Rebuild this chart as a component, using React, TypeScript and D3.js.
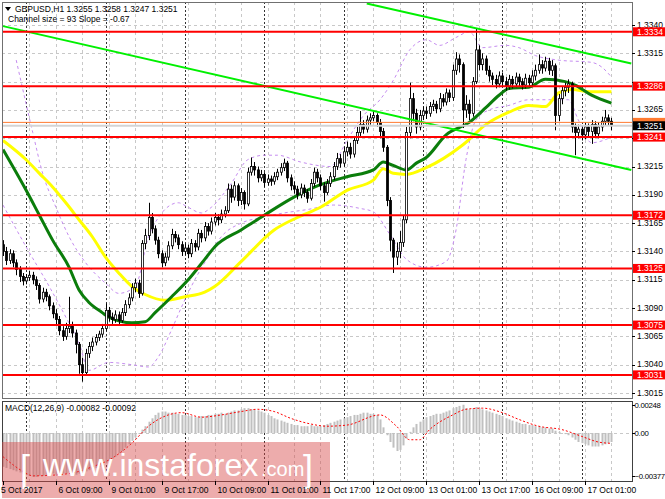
import * as d3 from "d3";
import React from "react";

const W = 665;
const H = 499;

// time axis: one label every 16 H1 bars, day separators at 00:00
const timeTickIdx = [0, 16, 32, 48, 64, 80, 96, 112, 128, 144, 160, 176];
const timeTickLabels = [
  "5 Oct 2017", "6 Oct 09:00", "9 Oct 01:00", "9 Oct 17:00", "10 Oct 09:00", "11 Oct 01:00",
  "11 Oct 17:00", "12 Oct 09:00", "13 Oct 01:00", "13 Oct 17:00", "16 Oct 09:00", "17 Oct 01:00",
];
const daySeparators = [7, 31, 55, 79, 103, 127, 151, 175];

const priceTicks = [
  1.3015, 1.304, 1.3065, 1.309, 1.3115, 1.314, 1.3165, 1.319, 1.3215, 1.324, 1.3265, 1.329, 1.3315, 1.334,
];
const levels = [1.3334, 1.3286, 1.3241, 1.3172, 1.3125, 1.3075, 1.3031];
const lastBid = 1.3251;
const lastAsk = 1.3254;

const firstOpen = 1.3146;
const closes = [
  1.3140, 1.3132, 1.3138, 1.3130, 1.3124, 1.3118, 1.3114, 1.3117, 1.3119, 1.3115,
  1.3110, 1.3098, 1.3104, 1.3100, 1.3092, 1.3085, 1.3080, 1.3070, 1.3065, 1.3072,
  1.3074, 1.3068, 1.3058, 1.3040, 1.3033, 1.3050, 1.3056, 1.3060, 1.3064, 1.3067,
  1.3072, 1.3088, 1.3082, 1.3080, 1.3084, 1.3079, 1.3086, 1.3093, 1.3099, 1.3108,
  1.3112, 1.3103, 1.3147, 1.3154, 1.3170, 1.3160, 1.3150, 1.3138, 1.3130, 1.3135,
  1.3145, 1.3155, 1.3152, 1.3146, 1.3140, 1.3143, 1.3138, 1.3147, 1.3144, 1.3156,
  1.3152, 1.3162, 1.3158, 1.3166, 1.3170, 1.3168, 1.3173, 1.3176, 1.3195, 1.3188,
  1.3198, 1.3185, 1.3192, 1.3182, 1.3210, 1.3215, 1.3212, 1.3205, 1.3208, 1.3201,
  1.3204, 1.3202, 1.3206, 1.3210, 1.3214, 1.3218, 1.3205, 1.3198, 1.3195, 1.3190,
  1.3196, 1.3192, 1.3187, 1.3200, 1.3210, 1.3205, 1.3198, 1.3192, 1.3200, 1.3206,
  1.3215, 1.3222, 1.3218, 1.3228, 1.3232, 1.3226, 1.3238, 1.3245, 1.3252, 1.3248,
  1.3256, 1.3258, 1.3260, 1.3254, 1.3246, 1.3232, 1.3185, 1.3150, 1.3135, 1.3140,
  1.3148, 1.3168, 1.3245, 1.3275, 1.3262, 1.3250, 1.3260, 1.3264, 1.3262, 1.3268,
  1.3270, 1.3266, 1.3275, 1.3272, 1.3280, 1.3276, 1.3300, 1.3310, 1.3305, 1.3265,
  1.3270, 1.3262, 1.3290, 1.3318, 1.3305, 1.3310, 1.3300, 1.3295, 1.3292, 1.3288,
  1.3295, 1.3290, 1.3286, 1.3292, 1.3288, 1.3294, 1.3290, 1.3287, 1.3293, 1.3289,
  1.3295, 1.3300, 1.3305, 1.3302, 1.3308, 1.3300, 1.3304, 1.3260, 1.3275, 1.3282,
  1.3285, 1.3288, 1.3250, 1.3245, 1.3248, 1.3243, 1.3250, 1.3246, 1.3252, 1.3244,
  1.3250, 1.3255, 1.3258, 1.3255, 1.3251,
];
const highs = [
  1.3150, 1.3144, 1.3142, 1.3141, 1.3133, 1.3127, 1.3121, 1.3120, 1.3123, 1.3122,
  1.3118, 1.3112, 1.3108, 1.3107, 1.3102, 1.3095, 1.3089, 1.3083, 1.3074, 1.3077,
  1.3100, 1.3078, 1.3071, 1.3060, 1.3046, 1.3054, 1.3060, 1.3064, 1.3067, 1.3070,
  1.3076, 1.3094, 1.3091, 1.3086, 1.3088, 1.3087, 1.3090, 1.3097, 1.3103, 1.3112,
  1.3116, 1.3115, 1.3150, 1.3160, 1.3183, 1.3174, 1.3163, 1.3153, 1.3141, 1.3139,
  1.3149, 1.3160, 1.3158, 1.3155, 1.3149, 1.3147, 1.3146, 1.3151, 1.3150, 1.3160,
  1.3159, 1.3166, 1.3165, 1.3170, 1.3174, 1.3173, 1.3177, 1.3180, 1.3200, 1.3199,
  1.3202, 1.3200, 1.3196, 1.3194, 1.3214, 1.3223, 1.3219, 1.3215, 1.3212, 1.3210,
  1.3208, 1.3207, 1.3210, 1.3213, 1.3218, 1.3222, 1.3220, 1.3208, 1.3202, 1.3198,
  1.3200, 1.3199, 1.3195, 1.3204, 1.3214, 1.3213, 1.3208, 1.3201, 1.3204, 1.3210,
  1.3219, 1.3227, 1.3226, 1.3232, 1.3237, 1.3236, 1.3242, 1.3250, 1.3264, 1.3256,
  1.3260, 1.3262, 1.3264, 1.3262, 1.3257, 1.3249, 1.3234, 1.3188, 1.3152, 1.3148,
  1.3158, 1.3172, 1.3250, 1.3289, 1.3280, 1.3266, 1.3265, 1.3268, 1.3268, 1.3272,
  1.3274, 1.3273, 1.3280, 1.3279, 1.3284, 1.3283, 1.3305, 1.3316, 1.3314, 1.3307,
  1.3278, 1.3274, 1.3294, 1.3337, 1.3322, 1.3315, 1.3313, 1.3304, 1.3298, 1.3296,
  1.3299, 1.3298, 1.3294, 1.3296, 1.3295, 1.3298, 1.3297, 1.3293, 1.3297, 1.3296,
  1.3300, 1.3305, 1.3314, 1.3309, 1.3312, 1.3311, 1.3309, 1.3306, 1.3279, 1.3286,
  1.3289, 1.3292, 1.3290, 1.3253, 1.3252, 1.3251, 1.3254, 1.3253, 1.3256, 1.3255,
  1.3254, 1.3259, 1.3265, 1.3261, 1.3258,
];
const lows = [
  1.3136, 1.3128, 1.3129, 1.3126, 1.3119, 1.3113, 1.3110, 1.3111, 1.3114, 1.3111,
  1.3106, 1.3094, 1.3095, 1.3096, 1.3088, 1.3081, 1.3075, 1.3066, 1.3061, 1.3062,
  1.3068, 1.3064, 1.3050, 1.3032, 1.3025, 1.3030, 1.3046, 1.3052, 1.3057, 1.3061,
  1.3064, 1.3070, 1.3078, 1.3076, 1.3077, 1.3075, 1.3077, 1.3083, 1.3090, 1.3096,
  1.3104, 1.3099, 1.3101, 1.3142, 1.3150, 1.3156, 1.3146, 1.3134, 1.3126, 1.3127,
  1.3132, 1.3142, 1.3148, 1.3142, 1.3136, 1.3137, 1.3134, 1.3135, 1.3140, 1.3141,
  1.3148, 1.3149, 1.3154, 1.3155, 1.3163, 1.3163, 1.3165, 1.3170, 1.3174, 1.3183,
  1.3185, 1.3180, 1.3181, 1.3177, 1.3180, 1.3207, 1.3207, 1.3201, 1.3202, 1.3197,
  1.3198, 1.3198, 1.3199, 1.3203, 1.3207, 1.3211, 1.3201, 1.3194, 1.3191, 1.3186,
  1.3187, 1.3188, 1.3183, 1.3185, 1.3197, 1.3201, 1.3194, 1.3184, 1.3190, 1.3197,
  1.3203, 1.3212, 1.3214, 1.3215, 1.3224, 1.3222, 1.3223, 1.3235, 1.3242, 1.3244,
  1.3245, 1.3252, 1.3255, 1.3250, 1.3240, 1.3228, 1.3180, 1.3140, 1.3121, 1.3128,
  1.3134, 1.3144, 1.3165, 1.3240, 1.3255, 1.3244, 1.3247, 1.3256, 1.3257, 1.3259,
  1.3264, 1.3262, 1.3263, 1.3268, 1.3269, 1.3272, 1.3273, 1.3296, 1.3298, 1.3249,
  1.3258, 1.3256, 1.3259, 1.3288, 1.3300, 1.3300, 1.3296, 1.3290, 1.3287, 1.3284,
  1.3285, 1.3286, 1.3282, 1.3283, 1.3284, 1.3285, 1.3286, 1.3283, 1.3284, 1.3285,
  1.3286, 1.3291, 1.3297, 1.3297, 1.3299, 1.3296, 1.3295, 1.3247, 1.3255, 1.3270,
  1.3277, 1.3280, 1.3245, 1.3225, 1.3240, 1.3238, 1.3239, 1.3241, 1.3235, 1.3240,
  1.3240, 1.3246, 1.3251, 1.3251, 1.3247,
];

// moving averages read at [bar index, price]
const maGreen: [number, number][] = [
  [0, 1.323], [7, 1.3194], [11, 1.3172], [15, 1.315], [20, 1.3126], [23, 1.3106], [26, 1.3095],
  [30, 1.3086], [32, 1.3082], [39, 1.3077], [43, 1.3078], [46, 1.3086], [51, 1.31], [56, 1.3115],
  [61, 1.3133], [64, 1.3144], [72, 1.3159], [79, 1.3172], [88, 1.3188], [96, 1.3199], [104, 1.3206],
  [112, 1.3212], [115, 1.3219], [118, 1.3216], [122, 1.3212], [125, 1.3218], [128, 1.3223],
  [134, 1.3243], [141, 1.3254], [146, 1.3267], [150, 1.3278], [153, 1.3284], [159, 1.3285],
  [164, 1.3292], [170, 1.329], [173, 1.3287], [178, 1.3278], [184, 1.3271],
];
const maYellow: [number, number][] = [
  [0, 1.3238], [7, 1.3221], [11, 1.3209], [15, 1.3197], [19, 1.3183], [23, 1.3168], [27, 1.3153],
  [31, 1.3135], [35, 1.3121], [39, 1.3109], [43, 1.3102], [49, 1.3097], [55, 1.31], [61, 1.3104],
  [64, 1.3109], [72, 1.3131], [82, 1.3159], [89, 1.317], [96, 1.3179], [104, 1.3194], [112, 1.3203],
  [115, 1.3213], [118, 1.3209], [122, 1.3208], [128, 1.3214], [139, 1.3234], [146, 1.3252],
  [153, 1.3263], [159, 1.3269], [164, 1.3268], [168, 1.328], [172, 1.3283], [178, 1.3281], [184, 1.3281],
];
const bandUpper: [number, number][] = [
  [4, 1.3309], [6, 1.3283], [9, 1.3245], [12, 1.3209], [16, 1.3179], [20, 1.3153], [25, 1.313],
  [31, 1.3112], [35, 1.3103], [40, 1.3109], [44, 1.3153], [47, 1.317], [53, 1.3183], [56, 1.3179],
  [60, 1.3174], [63, 1.3179], [69, 1.32], [74, 1.3221], [79, 1.3225], [83, 1.3225], [90, 1.3219],
  [99, 1.3215], [104, 1.3238], [109, 1.326], [114, 1.3274], [118, 1.3291], [123, 1.3318],
  [128, 1.3327], [132, 1.3322], [137, 1.3329], [141, 1.3334], [145, 1.332], [152, 1.3322],
  [156, 1.332], [161, 1.3313], [168, 1.3309], [178, 1.3307], [181, 1.3303], [184, 1.3294],
];
const bandLower: [number, number][] = [
  [0, 1.3181], [7, 1.3144], [14, 1.3109], [19, 1.3082], [23, 1.3059], [26, 1.3035], [32, 1.3042],
  [39, 1.304], [44, 1.3038], [47, 1.3047], [51, 1.3071], [54, 1.3091], [58, 1.3115], [62, 1.3135],
  [66, 1.3153], [72, 1.3165], [78, 1.317], [85, 1.3174], [92, 1.3177], [100, 1.3181], [108, 1.3178],
  [112, 1.3175], [117, 1.3155], [122, 1.3133], [128, 1.3126], [134, 1.3131], [137, 1.3159],
  [140, 1.3221], [143, 1.3256], [147, 1.3265], [153, 1.3269], [159, 1.3274], [165, 1.3274],
  [171, 1.3274], [174, 1.3256], [178, 1.3236], [184, 1.3241],
];
// equidistant channel, two rays given by their ends
const channelLower: [number, number][] = [[0, 1.3339], [190, 1.3212]];
const channelUpper: [number, number][] = [[110, 1.3359], [190, 1.3306]];

const macdHist = [
  -0.0030, -0.0031, -0.0032, -0.0033, -0.0034, -0.0035, -0.0036, -0.0037, -0.0038, -0.0039,
  -0.0039, -0.0038, -0.0038, -0.0037, -0.0037, -0.0036, -0.0037, -0.0037, -0.0036, -0.0036,
  -0.0035, -0.0036, -0.0037, -0.0036, -0.0035, -0.0034, -0.0033, -0.0032, -0.0031, -0.0030,
  -0.0029, -0.0027, -0.0025, -0.0023, -0.0021, -0.0018, -0.0016, -0.0013, -0.0010, -0.0007,
  -0.0004, -0.0001, 0.0003, 0.0006, 0.0010, 0.0013, 0.0016, 0.0018, 0.0019, 0.0019,
  0.0018, 0.0018, 0.0017, 0.0017, 0.0016, 0.0016, 0.0015, 0.0015, 0.0014, 0.0014,
  0.0015, 0.0015, 0.0016, 0.0016, 0.0017, 0.0017, 0.0018, 0.0017, 0.0018, 0.0019,
  0.0020, 0.0020, 0.0021, 0.0022, 0.0022, 0.0021, 0.0021, 0.0020, 0.0019, 0.0018,
  0.0016, 0.0015, 0.0013, 0.0012, 0.0011, 0.0010, 0.0009, 0.0008, 0.0007, 0.0007,
  0.0006, 0.0006, 0.0006, 0.0007, 0.0006, 0.0006, 0.0006, 0.0007, 0.0008, 0.0009,
  0.0010, 0.0011, 0.0012, 0.0013, 0.0014, 0.0015, 0.0016, 0.0016, 0.0017, 0.0018,
  0.0018, 0.0017, 0.0017, 0.0016, 0.0012, 0.0005, -0.0002, -0.0008, -0.0013, -0.0016,
  -0.0015, -0.0011, -0.0005, 0.0001, 0.0005, 0.0008, 0.0010, 0.0012, 0.0014, 0.0015,
  0.0016, 0.0017, 0.0017, 0.0018, 0.0019, 0.0020, 0.0022, 0.0023, 0.0024, 0.0025,
  0.0022, 0.0021, 0.0022, 0.0023, 0.0022, 0.0021, 0.0020, 0.0019, 0.0018, 0.0017,
  0.0016, 0.0015, 0.0013, 0.0012, 0.0011, 0.0010, 0.0009, 0.0008, 0.0008, 0.0007,
  0.0007, 0.0006, 0.0006, 0.0005, 0.0005, 0.0004, 0.0004, 0.0002, 0.0001, 0.0000,
  -0.0001, -0.0002, -0.0004, -0.0006, -0.0008, -0.0009, -0.0010, -0.0011, -0.0012, -0.0012,
  -0.0012, -0.0011, -0.0010, -0.0009, -0.0008,
];
const macdSignal: [number, number][] = [
  [0, -0.0021], [6, -0.0034], [9, -0.0038], [20, -0.0036], [27, -0.003], [32, -0.0024], [39, -0.0009],
  [44, 0.0006], [50, 0.0016], [54, 0.0018], [60, 0.0014], [66, 0.0016], [72, 0.0019], [77, 0.0021],
  [82, 0.0019], [87, 0.0013], [93, 0.0008], [98, 0.0006], [104, 0.0007], [114, 0.0016], [119, 0.0006],
  [123, -0.0006], [126, -0.0006], [129, 0.0003], [136, 0.0016], [140, 0.0021], [145, 0.0022],
  [151, 0.0018], [156, 0.0012], [162, 0.0006], [169, 0.0003], [175, -0.0003], [180, -0.0008], [184, -0.00092],
];
const macdTicks = [0.00248, 0, -0.00377];

const FONT = "'Liberation Sans', Arial, sans-serif";

const App: React.FC = () => {
  const svgRef = React.useRef<SVGSVGElement | null>(null);

  React.useEffect(() => {
    const svgEl = d3.select(svgRef.current);
    svgEl.selectAll("*").remove();
    const svg = svgEl.append("g").attr("font-family", FONT);

    const left = 2;
    const right = 632;
    const mainTop = 2;
    const mainBottom = 398;
    const macdTop = 401;
    const macdBottom = 481;

    const x = d3.scaleLinear().domain([0, 176]).range([3, 585]);
    const y = d3.scaleLinear().domain([1.3015, 1.334]).range([393, 25]);
    const ym = d3.scaleLinear().domain([-0.00377, 0.00248]).range([475.5, 405]);
    const opens = closes.map((_, i) => (i === 0 ? firstOpen : closes[i - 1]));

    svg.append("rect").attr("width", W).attr("height", H).attr("fill", "#fff");

    const defs = svg.append("defs");
    defs.append("clipPath").attr("id", "clipMain").append("rect")
      .attr("x", left).attr("y", mainTop).attr("width", right - left).attr("height", mainBottom - mainTop);
    defs.append("clipPath").attr("id", "clipMacd").append("rect")
      .attr("x", left).attr("y", macdTop).attr("width", right - left).attr("height", macdBottom - macdTop);

    const main = svg.append("g").attr("clip-path", "url(#clipMain)");
    const macd = svg.append("g").attr("clip-path", "url(#clipMacd)");

    // grid
    const gridIdx = d3.range(8, 192, 8);
    [main, macd].forEach((g, k) => {
      const y0 = k === 0 ? mainTop : macdTop;
      const y1 = k === 0 ? mainBottom : macdBottom;
      g.selectAll(".vgrid").data(gridIdx).join("line")
        .attr("x1", (d) => Math.round(x(d)) + 0.5).attr("x2", (d) => Math.round(x(d)) + 0.5)
        .attr("y1", y0).attr("y2", y1)
        .attr("stroke", "#c8c8c8").attr("stroke-dasharray", "3,3");
      g.selectAll(".sep").data(daySeparators).join("line")
        .attr("x1", (d) => Math.round(x(d)) + 0.5).attr("x2", (d) => Math.round(x(d)) + 0.5)
        .attr("y1", y0).attr("y2", y1)
        .attr("stroke", "#333").attr("stroke-dasharray", "2,2");
    });
    main.selectAll(".hgrid").data(priceTicks).join("line")
      .attr("x1", left).attr("x2", right)
      .attr("y1", (d) => Math.round(y(d)) + 0.5).attr("y2", (d) => Math.round(y(d)) + 0.5)
      .attr("stroke", "#c8c8c8").attr("stroke-dasharray", "3,3");

    // bollinger-like envelopes
    const curve = d3.line<[number, number]>()
      .x((d) => x(d[0])).y((d) => y(d[1])).curve(d3.curveMonotoneX);
    [bandUpper, bandLower].forEach((b) => {
      main.append("path").attr("d", curve(b)).attr("fill", "none")
        .attr("stroke", "#c58cf0").attr("stroke-width", 1).attr("stroke-dasharray", "3,3");
    });

    // moving averages
    main.append("path").attr("d", curve(maYellow)).attr("fill", "none")
      .attr("stroke", "#ffff00").attr("stroke-width", 3);
    main.append("path").attr("d", curve(maGreen)).attr("fill", "none")
      .attr("stroke", "#0b7d0b").attr("stroke-width", 3);

    // candles
    const candle = main.selectAll(".candle").data(closes).join("g");
    candle.append("line")
      .attr("x1", (_, i) => Math.round(x(i)) + 0.5).attr("x2", (_, i) => Math.round(x(i)) + 0.5)
      .attr("y1", (_, i) => y(highs[i])).attr("y2", (_, i) => y(lows[i]))
      .attr("stroke", "#000").attr("stroke-width", 1);
    candle.append("rect")
      .attr("x", (_, i) => Math.round(x(i)) - 0.5)
      .attr("y", (c, i) => y(Math.max(c, opens[i])))
      .attr("width", 2)
      .attr("height", (c, i) => Math.max(1, Math.abs(y(c) - y(opens[i]))))
      .attr("fill", (c, i) => (c >= opens[i] ? "#fff" : "#000"))
      .attr("stroke", "#000").attr("stroke-width", 0.8);

    // trend channel
    const straight = d3.line<[number, number]>().x((d) => x(d[0])).y((d) => y(d[1]));
    [channelLower, channelUpper].forEach((c) => {
      main.append("path").attr("d", straight(c)).attr("fill", "none")
        .attr("stroke", "#00f000").attr("stroke-width", 2);
    });

    // support / resistance levels
    main.selectAll(".level").data(levels).join("line")
      .attr("x1", left).attr("x2", right)
      .attr("y1", (d) => y(d)).attr("y2", (d) => y(d))
      .attr("stroke", "#ff0000").attr("stroke-width", 2);

    // bid / ask lines
    main.append("line").attr("x1", left).attr("x2", right)
      .attr("y1", y(lastBid)).attr("y2", y(lastBid)).attr("stroke", "#d4d4d4").attr("stroke-width", 2);
    main.append("line").attr("x1", left).attr("x2", right)
      .attr("y1", y(lastAsk)).attr("y2", y(lastAsk)).attr("stroke", "#ff7a30").attr("stroke-width", 1);

    // MACD
    macd.append("line").attr("x1", left).attr("x2", right)
      .attr("y1", Math.round(ym(0)) + 0.5).attr("y2", Math.round(ym(0)) + 0.5)
      .attr("stroke", "#c8c8c8").attr("stroke-dasharray", "3,3");
    macd.selectAll(".hist").data(macdHist).join("rect")
      .attr("x", (_, i) => Math.round(x(i)) - 0.5)
      .attr("width", 2)
      .attr("y", (d) => Math.min(ym(d), ym(0)))
      .attr("height", (d) => Math.abs(ym(d) - ym(0)))
      .attr("fill", "#c0c0c0");
    macd.append("path")
      .attr("d", d3.line<[number, number]>().x((d) => x(d[0])).y((d) => ym(d[1])).curve(d3.curveMonotoneX)(macdSignal))
      .attr("fill", "none").attr("stroke", "#ff0000").attr("stroke-width", 1).attr("stroke-dasharray", "2,2");

    // frames
    svg.append("rect").attr("x", left + 0.5).attr("y", mainTop + 0.5)
      .attr("width", right - left).attr("height", mainBottom - mainTop)
      .attr("fill", "none").attr("stroke", "#707070");
    svg.append("rect").attr("x", left + 0.5).attr("y", macdTop + 0.5)
      .attr("width", right - left).attr("height", macdBottom - macdTop)
      .attr("fill", "none").attr("stroke", "#404040");

    // price axis; plain labels hidden where a level tag sits on top of them
    const fmt4 = d3.format(".4f");
    const tagged = [...levels, lastBid];
    const pAxis = svg.append("g").attr("font-size", 8.5).attr("fill", "#000");
    priceTicks.forEach((p) => {
      pAxis.append("line").attr("x1", right).attr("x2", right + 3)
        .attr("y1", Math.round(y(p)) + 0.5).attr("y2", Math.round(y(p)) + 0.5).attr("stroke", "#000");
      const covered = tagged.some((t) => Math.abs(y(t) - y(p)) < 6);
      if (!covered) pAxis.append("text").attr("x", right + 5).attr("y", y(p) + 2.5).text(fmt4(p));
    });
    const tag = (p: number, bg: string, withText: boolean) => {
      pAxis.append("rect").attr("x", right + 1).attr("y", y(p) - 4.5).attr("width", W - right - 1)
        .attr("height", 9).attr("fill", bg);
      if (withText) {
        pAxis.append("text").attr("x", right + 5).attr("y", y(p) + 3).attr("fill", "#fff").text(fmt4(p));
      }
    };
    levels.forEach((p) => tag(p, "#ff0000", true));
    tag(lastAsk, "#ff7a30", false);
    tag(lastBid, "#000", true);

    // MACD axis
    const fmtM = (v: number) => (v === 0 ? "0.00" : d3.format(".5f")(v));
    macdTicks.forEach((v) => {
      pAxis.append("line").attr("x1", right).attr("x2", right + 3)
        .attr("y1", Math.round(ym(v)) + 0.5).attr("y2", Math.round(ym(v)) + 0.5).attr("stroke", "#000");
      pAxis.append("text").attr("x", right + 2.5).attr("y", ym(v) + 3).attr("font-size", 7.8)
        .attr("letter-spacing", -0.3).text(fmtM(v));
    });

    // watermark
    const wm = svg.append("g");
    wm.append("rect").attr("x", left).attr("y", 442).attr("width", 328).attr("height", 56)
      .attr("fill", "#d84848").attr("opacity", 0.45);

    // time axis
    const tAxis = svg.append("g").attr("font-size", 8.5).attr("fill", "#000");
    timeTickIdx.forEach((idx, k) => {
      const tx = Math.round(x(idx)) + 0.5;
      tAxis.append("line").attr("x1", tx).attr("x2", tx).attr("y1", macdBottom).attr("y2", macdBottom + 4)
        .attr("stroke", "#000");
      tAxis.append("text").attr("x", k === 0 ? 1 : tx + 2).attr("y", 493).text(timeTickLabels[k]);
    });

    wm.append("text").attr("x", 20).attr("y", 481).attr("font-size", 36).attr("fill", "#fff")
      .attr("font-weight", 300).text("[");
    wm.append("text").attr("x", 43).attr("y", 476).attr("font-size", 32).attr("fill", "#fff")
      .text("www.instaforex");
    wm.append("text").attr("x", 261).attr("y", 476).attr("font-size", 20).attr("fill", "#fff")
      .text(".com");
    wm.append("text").attr("x", 303).attr("y", 481).attr("font-size", 36).attr("fill", "#fff")
      .text("]");

    // header texts
    const hdr = svg.append("g").attr("font-size", 8.5).attr("fill", "#000");
    hdr.append("path").attr("d", "M5,7 L11,7 L8,11 Z").attr("fill", "#000");
    hdr.append("text").attr("x", 15).attr("y", 12).text("GBPUSD,H1  1.3255 1.3258 1.3247 1.3251");
    hdr.append("text").attr("x", 8).attr("y", 22).text("Channel size = 93 Slope = -0.67");
    hdr.append("text").attr("x", 5).attr("y", 411).text("MACD(12,26,9) -0.00082 -0.00092");
  }, []);

  return (
    <svg
      ref={svgRef}
      width={W}
      height={H}
      style={{ position: "absolute", left: 0, top: 0, display: "block" }}
    />
  );
};

export default App;
